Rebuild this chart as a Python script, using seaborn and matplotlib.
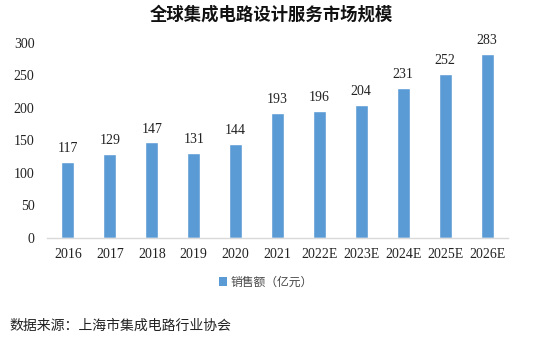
import matplotlib
matplotlib.use("Agg")
import matplotlib.pyplot as plt
import seaborn as sns
import pandas as pd
from matplotlib.patches import Patch

years = ["2016", "2017", "2018", "2019", "2020", "2021", "2022E", "2023E", "2024E", "2025E", "2026E"]
sales = [117, 129, 147, 131, 144, 193, 196, 204, 231, 252, 283]
series_name = "销售额（亿元）"
title = "全球集成电路设计服务市场规模"
source = "数据来源：上海市集成电路行业协会"

sns.set_theme(style="white")
plt.rcParams['font.family'] = ['Noto Sans CJK SC', 'DejaVu Sans']

df = pd.DataFrame({"year": years, "sales": sales})
color = "#5B9BD5"

fig = plt.figure(figsize=(5.43, 3.37), dpi=100)
ax = fig.add_axes([0.0866, 0.2938, 0.8489, 0.5786])
sns.barplot(data=df, x="year", y="sales", color=color, width=0.31, ax=ax, saturation=1)
ax.set_ylim(0, 300)
ax.set_yticks(range(0, 301, 50))
ax.set_xlabel("")
ax.set_ylabel("")
serif = "Liberation Serif"
for lab in ax.get_yticklabels() + ax.get_xticklabels():
    lab.set_fontfamily(serif)
    lab.set_fontsize(10)
    lab.set_color("#222222")
ax.tick_params(axis="y", length=0, pad=9)
ax.tick_params(axis="x", length=0, pad=7)
for s in ["top", "right", "left"]:
    ax.spines[s].set_visible(False)
ax.spines["bottom"].set_color("#d9d9d9")
ax.spines["bottom"].set_linewidth(1)

for c in ax.containers:
    ax.bar_label(c, labels=[str(v) for v in sales], padding=5, fontsize=10,
                 fontfamily=serif, color="#222222")

fig.text(0.5, 0.957, title, ha="center", va="center", fontsize=12.5,
         fontweight="bold", color="#111111")
handle = Patch(facecolor=color, edgecolor="none")
fig.legend([handle], [series_name], loc="center", bbox_to_anchor=(0.49, 0.163),
           frameon=False, fontsize=8.5, handlelength=0.7, handleheight=0.7,
           handletextpad=0.3, labelcolor="#444444")
fig.text(0.018, 0.033, source, ha="left", va="center", fontsize=10, color="#222222")

fig.savefig("out.png", dpi=100)
